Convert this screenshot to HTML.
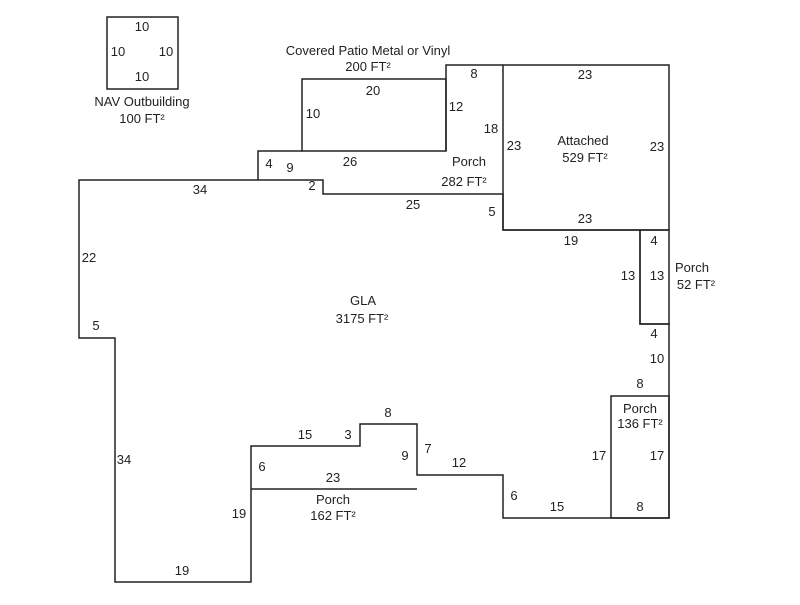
<!DOCTYPE html>
<html><head><style>body{margin:0;background:#fff}svg text{font-family:"Liberation Sans",Arial,sans-serif;font-size:13px;fill:#222;text-anchor:middle}</style></head>
<body><svg width="800" height="600" viewBox="0 0 800 600" xmlns="http://www.w3.org/2000/svg">
<g fill="none" stroke="#222" stroke-width="1.5">
<rect x="107" y="17" width="71" height="72"/>
<rect x="302" y="79" width="144" height="72"/>
<polyline points="446,151 446,65 503,65"/>
<polyline points="258,180 258,151 302,151"/>
<rect x="503" y="65" width="166" height="165"/>
<polygon points="79,180 323,180 323,194 503,194 503,230 640,230 640,324 669,324 669,518 503,518 503,475 417,475 417,424 360,424 360,446 251,446 251,582 115,582 115,338 79,338"/>
<rect x="640" y="230" width="29" height="94"/>
<rect x="611" y="396" width="58" height="122"/>
<line x1="251" y1="489" x2="417" y2="489"/>
</g>
<text x="142" y="31">10</text><text x="118" y="56">10</text><text x="166" y="56">10</text><text x="142" y="81">10</text>
<text x="142" y="106">NAV Outbuilding</text><text x="142" y="123">100 FT²</text>
<text x="368" y="55">Covered Patio Metal or Vinyl</text><text x="368" y="71">200 FT²</text>
<text x="373" y="95">20</text><text x="313" y="118">10</text><text x="456" y="111">12</text>
<text x="474" y="78">8</text><text x="491" y="133">18</text><text x="514" y="150">23</text>
<text x="350" y="166">26</text><text x="269" y="168">4</text><text x="290" y="172">9</text>
<text x="469" y="166">Porch</text><text x="464" y="186">282 FT²</text>
<text x="312" y="190">2</text><text x="200" y="194">34</text><text x="413" y="209">25</text><text x="492" y="216">5</text>
<text x="585" y="79">23</text><text x="583" y="145">Attached</text><text x="585" y="162">529 FT²</text>
<text x="657" y="151">23</text><text x="585" y="223">23</text><text x="571" y="245">19</text>
<text x="654" y="245">4</text><text x="628" y="280">13</text><text x="657" y="280">13</text>
<text x="692" y="272">Porch</text><text x="696" y="289">52 FT²</text>
<text x="654" y="338">4</text><text x="657" y="363">10</text><text x="640" y="388">8</text>
<text x="640" y="413">Porch</text><text x="640" y="428">136 FT²</text>
<text x="599" y="460">17</text><text x="657" y="460">17</text><text x="640" y="511">8</text>
<text x="557" y="511">15</text><text x="514" y="500">6</text>
<text x="459" y="467">12</text><text x="428" y="453">7</text><text x="405" y="460">9</text>
<text x="388" y="417">8</text><text x="348" y="439">3</text><text x="305" y="439">15</text>
<text x="262" y="471">6</text><text x="333" y="482">23</text>
<text x="333" y="504">Porch</text><text x="333" y="520">162 FT²</text>
<text x="239" y="518">19</text><text x="182" y="575">19</text><text x="124" y="464">34</text>
<text x="89" y="262">22</text><text x="96" y="330">5</text>
<text x="363" y="305">GLA</text><text x="362" y="323">3175 FT²</text>
</svg></body></html>
